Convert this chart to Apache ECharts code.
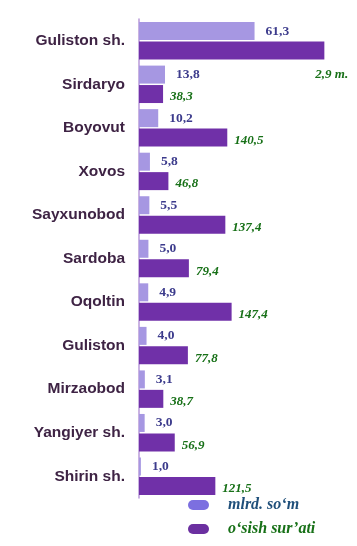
<!DOCTYPE html>
<html>
<head>
<meta charset="utf-8">
<script src="https://cdn.jsdelivr.net/npm/echarts@6/dist/echarts.min.js"></script>
<style>html,body{margin:0;padding:0;background:#fff;}#c{width:357px;height:546px;}</style>
</head>
<body>
<div id="c"></div>
<script>
const categories = ['Guliston sh.','Sirdaryo','Boyovut','Xovos','Sayxunobod','Sardoba','Oqoltin','Guliston','Mirzaobod','Yangiyer sh.','Shirin sh.'];
const volume = [61.3,13.8,10.2,5.8,5.5,5.0,4.9,4.0,3.1,3.0,1.0];
const growth = [295,38.3,140.5,46.8,137.4,79.4,147.4,77.8,38.7,56.9,121.5];
const growthLabels = ['2,9 m.','38,3','140,5','46,8','137,4','79,4','147,4','77,8','38,7','56,9','121,5'];
const seriesNames = ['mlrd. so‘m','o‘sish sur’ati'];

const chart = echarts.init(document.getElementById('c'), null, {renderer:'canvas'});
const fmt = v => v.toFixed(1).replace('.', ',');

const growthData = growth.map((v,i) => {
  const d = {value: v};
  if (i === 0) {
    d.label = {position: ['100%','100%'], distance: 0, offset: [-9, 9]};
  }
  return d;
});

const pill = 'path://M5,0 L16,0 A5,5 0 0 1 16,10 L5,10 A5,5 0 0 1 5,0 Z';

chart.setOption({
  backgroundColor: '#ffffff',
  animation: false,
  grid: {left: 139, right: 29.5, top: 19, bottom: 48, containLabel: false},
  xAxis: [
    {type: 'value', min: 0, max: 100, show: false},
    {type: 'value', min: 0, max: 300, show: false}
  ],
  yAxis: {
    type: 'category', data: categories, inverse: true,
    axisTick: {show: false},
    axisLine: {show: true, lineStyle: {color: '#b99ad9', width: 1.5}},
    axisLabel: {margin: 14, color: '#3e2344', fontFamily: 'Liberation Sans', fontWeight: 'bold', fontSize: 15.5}
  },
  legend: {
    orient: 'vertical', left: 188, top: 497, height: 49, padding: 0,
    itemWidth: 21, itemHeight: 10, itemGap: 8,
    icon: pill,
    textStyle: {fontFamily: 'Liberation Serif', fontStyle: 'italic', fontWeight: 'bold', fontSize: 16, lineHeight: 16, padding: [0,0,0,14]},
    data: [
      {name: seriesNames[0], itemStyle: {color: '#7c6fe0'}, textStyle: {color: '#1f4f7a'}},
      {name: seriesNames[1], itemStyle: {color: '#6b2fa0'}, textStyle: {color: '#177017'}}
    ]
  },
  series: [
    {
      name: seriesNames[0], type: 'bar', xAxisIndex: 0, data: volume,
      barWidth: 18, barGap: '8%',
      itemStyle: {color: '#a697e2'},
      label: {show: true, position: 'right', distance: 11, formatter: p => fmt(p.value),
        color: '#3c3b8c', fontFamily: 'Liberation Serif', fontWeight: 'bold', fontSize: 13.5}
    },
    {
      name: seriesNames[1], type: 'bar', xAxisIndex: 1, data: growthData,
      barWidth: 18, barGap: '8%',
      itemStyle: {color: '#7030a8'},
      label: {show: true, position: 'right', distance: 7, offset: [0, 3], formatter: p => growthLabels[p.dataIndex],
        color: '#177017', fontFamily: 'Liberation Serif', fontStyle: 'italic', fontWeight: 'bold', fontSize: 13}
    }
  ]
});
</script>
</body>
</html>
